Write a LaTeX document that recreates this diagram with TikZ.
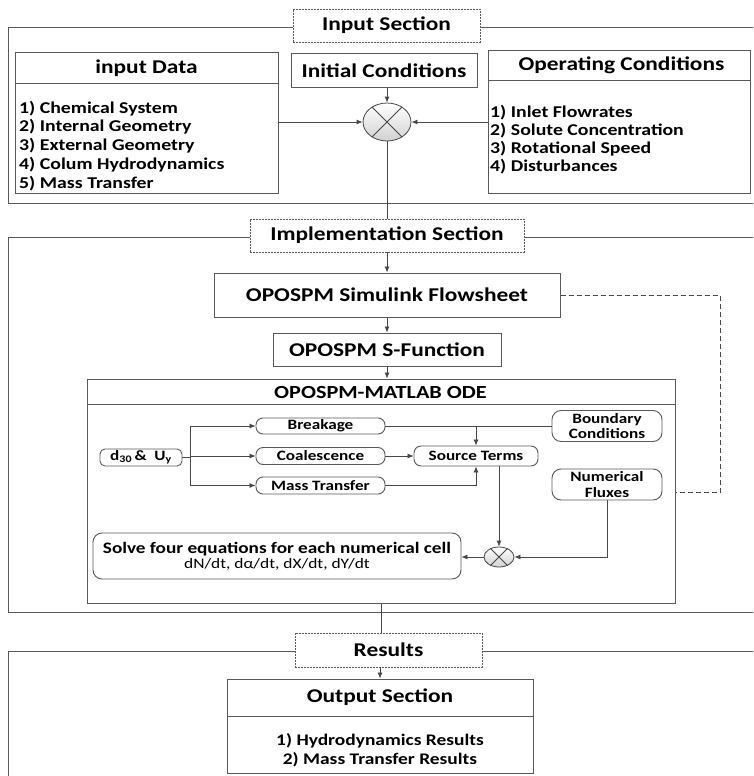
\documentclass[tikz,border=0pt]{standalone}
\usepackage{fontspec}
\setmainfont[FakeStretch=1.2]{Carlito}
\usetikzlibrary{arrows.meta,shapes.geometric}

\colorlet{linegray}{black!72}
\colorlet{rimgray}{black!65}

\tikzset{
  arr/.style={-{Latex[length=6pt,width=5pt]},draw=linegray,line width=0.8pt},
  link/.style={draw=linegray,line width=0.8pt},
  frame/.style={draw=rimgray,line width=1pt},
  seclabel/.style={draw=rimgray,dash pattern=on 2pt off 1pt,line width=0.7pt,fill=white,
    inner sep=0pt,font=\bfseries\fontsize{19.5}{22}\selectfont},
  block/.style={draw=rimgray,line width=1pt,fill=white,inner sep=0pt,
    font=\bfseries\fontsize{19.5}{22}\selectfont},
  title/.style={inner sep=0pt,font=\bfseries\fontsize{19.5}{22}\selectfont},
  pill/.style={draw=rimgray,line width=0.9pt,fill=white,rounded corners=7pt,inner sep=0pt,
    align=center,font=\bfseries\fontsize{14.3}{15.5}\selectfont},
  mixer/.style={ellipse,draw=linegray,line width=0.8pt,top color=white,bottom color=black!18,
    inner sep=0pt},
  item/.style={anchor=base west,inner sep=0pt,font=\bfseries\fontsize{16.5}{19}\selectfont},
}

\begin{document}
\begin{tikzpicture}[x=1pt,y=-1pt]
\useasboundingbox (0,0) rectangle (753,776);
\clip (0,0) rectangle (753,776);

% ---- input section
\draw[frame] (770,28) -- (8,28) -- (8,203) -- (770,203);
\node[seclabel,minimum width=187pt,minimum height=33pt] (inp) at (386.5,25.5) {Input Section};

\node[block,minimum width=263pt,minimum height=140pt] (data) at (146.5,123) {};
\node[title] (datat) at (146.5,68) {input Data};
\draw[frame] (15,83) -- (278,83);
\foreach \t [count=\i] in {1) Chemical System,2) Internal Geometry,3) External Geometry,
    4) Colum Hydrodynamics,5) Mass Transfer}
  \node[item] (d\i) at (19,94.3+18.75*\i) {\t};

\node[block,minimum width=186pt,minimum height=33pt] (init) at (384,70.5) {Initial Conditions};

\node[block,minimum width=262pt,minimum height=142pt] (oper) at (619,122) {};
\node[title] (opert) at (621.5,65.5) {Operating Conditions};
\draw[frame] (488,80) -- (750,80);
\foreach \t [count=\i] in {1) Inlet Flowrates,2) Solute Concentration,3) Rotational Speed,
    4) Disturbances}
  \node[item] (o\i) at (490,98.7+18.3*\i) {\t};

\node[mixer,minimum width=48pt,minimum height=38pt] (xs) at (387,122) {};
\draw[link] (xs.45) -- (xs.225) (xs.135) -- (xs.315);

\draw[arr] (data.east |- xs.west) -- (xs.west);
\draw[arr] (oper.west |- xs.east) -- (xs.east);
\draw[arr] (xs.north |- init.south) -- (xs.north);

% ---- implementation section
\draw[frame] (770,237) -- (8,237) -- (8,612) -- (770,612);
\node[seclabel,minimum width=274pt,minimum height=33pt] (impl) at (387,235.5) {Implementation Section};
\draw[link] (xs.south) -- (impl.north);

\node[block,minimum width=346pt,minimum height=44pt] (sim) at (387,295) {OPOSPM Simulink Flowsheet};
\node[block,minimum width=228pt,minimum height=33pt] (sfun) at (387,349.5) {OPOSPM S-Function};
\node[block,minimum width=588pt,minimum height=224pt] (ode) at (381,491) {};
\node[title,font=\bfseries\fontsize{18.5}{22}\selectfont] (odet) at (380.5,392) {OPOSPM-MATLAB ODE};
\draw[frame] (87,404) -- (675,404);

\draw[arr] (impl.south) -- (sim.north);
\draw[arr] (sim.south) -- (sfun.north);
\draw[arr] (sfun.south) -- (sfun.south |- ode.north);

% feedback from the flowsheet
\coordinate (fb) at (720,492);
\draw[link,dash pattern=on 5pt off 3pt,line width=0.7pt] (sim.east) -| (fb) -- (fb -| ode.east);

% inside the ODE block
\node[pill,minimum width=82pt,minimum height=17pt,rounded corners=5pt] (dU) at (141,457.5)
  {d\textsubscript{30}\,\& \ U\textsubscript{y}};
\node[pill,minimum width=129pt,minimum height=16pt] (brk) at (320.5,426) {Breakage};
\node[pill,minimum width=129pt,minimum height=17pt] (coal) at (320.5,456) {Coalescence};
\node[pill,minimum width=129pt,minimum height=17pt] (mass) at (320.5,485.5) {Mass Transfer};
\node[pill,minimum width=124pt,minimum height=20pt] (src) at (476,456) {Source Terms};
\node[pill,minimum width=110pt,minimum height=31pt,rounded corners=9pt] (bc) at (607,426) {Boundary\\Conditions};
\node[pill,minimum width=110pt,minimum height=31pt,rounded corners=9pt] (nf) at (607,484.5) {Numerical\\Fluxes};
\node[mixer,minimum width=30pt,minimum height=20pt] (xs2) at (499,557) {};
\draw[link] (xs2.45) -- (xs2.225) (xs2.135) -- (xs2.315);
\node[pill,minimum width=368pt,minimum height=46pt,rounded corners=9pt,
  font=\bfseries\fontsize{16}{15}\selectfont] (solve) at (277,556)
  {Solve four equations for each numerical cell\\
   {\mdseries\fontsize{14.5}{15}\selectfont dN/dt, dα/dt, dX/dt, dY/dt}};

\coordinate (br) at (190,457.5);
\draw[link] (dU.east) -- (br);
\draw[link] (br |- brk.west) -- (br |- mass.west);
\draw[arr] (br |- brk.west) -- (brk.west);
\draw[arr] (br |- coal.west) -- (coal.west);
\draw[arr] (br |- mass.west) -- (mass.west);

\draw[arr] (brk.east) -| (src.north);
\draw[link] (bc.west) -- (bc.west -| src.north);
\draw[arr] (coal.east) -- (src.west |- coal.east);
\draw[arr] (mass.east) -| (src.south);
\draw[arr] (xs2.north |- src.south) -- (xs2.north);
\draw[arr] (nf.south) |- (xs2.east);
\draw[arr] (xs2.west) -- (solve.east |- xs2.west);

% ---- results
\draw[frame] (770,651) -- (8,651) -- (8,790);
\node[seclabel,minimum width=187pt,minimum height=34pt] (res) at (388.5,650) {Results};
\draw[link] (ode.south) -- (ode.south |- res.north);

\node[block,minimum width=306pt,minimum height=94pt] (out) at (380,726) {};
\node[title] (outt) at (380,697.5) {Output Section};
\draw[frame] (227,716) -- (533,716);
\node[inner sep=0pt,align=center,font=\bfseries\fontsize{16.2}{19}\selectfont] (outl) at (380,750)
  {1) Hydrodynamics Results\\2) Mass Transfer Results};
\draw[arr] (out.north |- res.south) -- (out.north);
\end{tikzpicture}
\end{document}
